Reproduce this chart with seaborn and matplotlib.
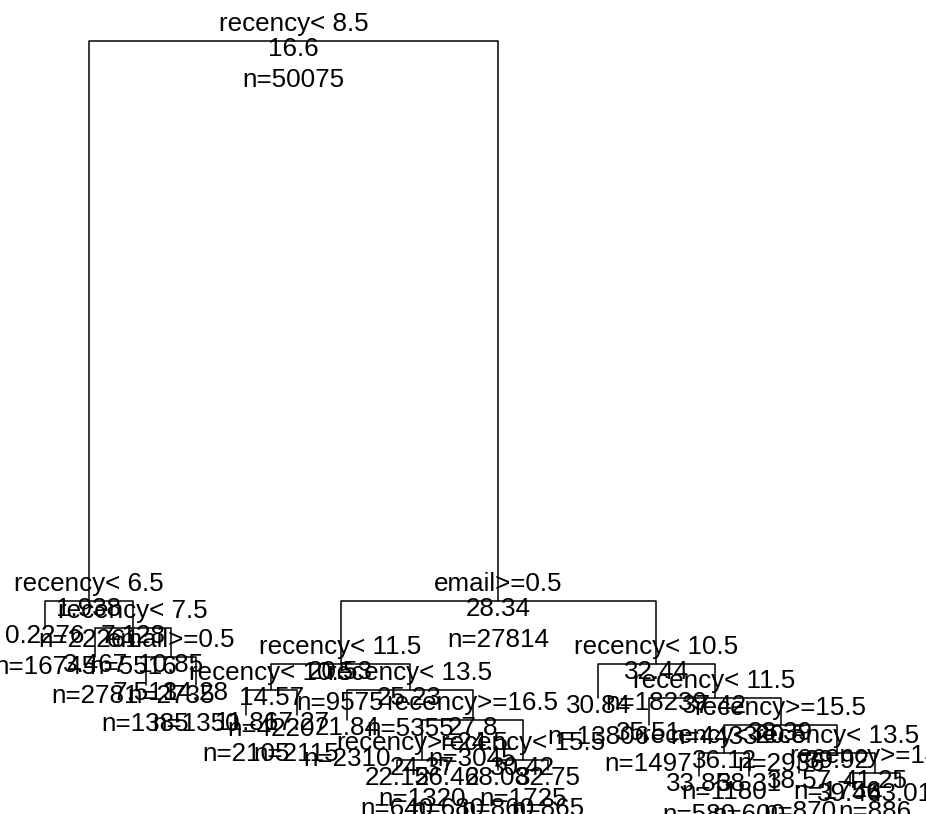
import matplotlib
matplotlib.use("Agg")
import matplotlib.pyplot as plt
import pandas as pd
import seaborn as sns

# Regression tree in rpart heap numbering (children of k are 2k and 2k+1)
node_id = [1, 2, 4, 5, 10, 11, 22, 23,
           3, 6, 12, 24, 25, 13, 26, 27, 54, 108, 109, 55, 110, 111,
           7, 14, 15, 30, 31, 62, 124, 125, 63, 126, 127, 254, 255]
split_label = ["recency< 8.5", "recency< 6.5", None, "recency< 7.5", None, "email>=0.5", None, None,
               "email>=0.5", "recency< 11.5", "recency< 10.5", None, None, "recency< 13.5", None,
               "recency>=16.5", "recency>=24.5", None, None, "recency< 15.5", None, None,
               "recency< 10.5", None, "recency< 11.5", None, "recency>=15.5", "recency< 20.5",
               None, None, "recency< 13.5", None, "recency>=14.5", None, None]
yval = [16.6, 1.938, 0.2276, 7.128, 3.467, 10.85, 7.513, 14.28,
        28.34, 20.53, 14.57, 11.86, 17.27, 25.23, 21.84, 27.8, 24.37, 22.15, 26.46, 30.42, 28.08, 32.75,
        32.44, 30.84, 37.42, 35.51, 38.39, 36.12, 33.85, 38.31, 39.92, 38.57, 41.25, 39.46, 43.01]
n_obs = [50075, 22261, 16745, 5516, 2781, 2735, 1385, 1350,
         27814, 9575, 4220, 2105, 2115, 5355, 2310, 3045, 1320, 640, 680, 1725, 860, 865,
         18239, 13806, 4433, 1497, 2936, 1180, 580, 600, 1756, 870, 886, 440, 446]
# deviance improvement of each split (thousands); leaves have none
split_gain = [2240, 108, 0, 116, 0, 112, 0, 0,
              252, 104, 100, 0, 0, 120, 0, 160, 40, 0, 0, 40, 0, 0,
              136, 0, 108, 0, 112, 92, 0, 0, 80, 0, 52, 0, 0]

nodes = pd.DataFrame({"node": node_id, "split": split_label, "yval": yval,
                      "n": n_obs, "gain": split_gain}).set_index("node")
ids = set(nodes.index)

# horizontal position: leaves numbered left to right, parents centred over children
xpos = {}
counter = [0]


def place(k):
    if 2 * k in ids:
        place(2 * k)
        place(2 * k + 1)
        xpos[k] = 0.5 * (xpos[2 * k] + xpos[2 * k + 1])
    else:
        xpos[k] = float(counter[0])
        counter[0] += 1


place(1)

# vertical position: each split drops its children by the deviance it removes
depth = {1: 0.0}
for k in sorted(ids):
    if 2 * k in ids:
        depth[2 * k] = depth[k] + nodes.loc[k, "gain"]
        depth[2 * k + 1] = depth[k] + nodes.loc[k, "gain"]

rows = []
seg = 0
for k in sorted(ids):
    if 2 * k not in ids:
        continue
    l, r = 2 * k, 2 * k + 1
    pts = [(xpos[l], depth[l]), (xpos[l], depth[k]), (xpos[r], depth[k]), (xpos[r], depth[r])]
    for x, y in pts:
        rows.append({"x": x, "y": y, "seg": seg})
    seg += 1
branches = pd.DataFrame(rows)

sns.set_style("white")
plt.rcParams["font.family"] = ["Liberation Sans", "DejaVu Sans"]

fig = plt.figure(figsize=(9.26, 8.14), dpi=100)
ax = fig.add_axes([0, 0, 1, 1])
sns.lineplot(data=branches, x="x", y="y", units="seg", estimator=None, sort=False,
             color="black", linewidth=1.1, ax=ax, legend=False)

fs = 18.7
for k in sorted(ids):
    x, y = xpos[k], depth[k]
    lab = nodes.loc[k, "split"]
    if isinstance(lab, str):
        ax.annotate(lab, (x, y), xytext=(0, 7.0), textcoords="offset points",
                    ha="center", va="baseline", fontsize=fs, color="black")
    ax.annotate(f"{nodes.loc[k, 'yval']:.4g}", (x, y), xytext=(0, -11.0),
                textcoords="offset points", ha="center", va="baseline", fontsize=fs, color="black")
    ax.annotate(f"n={nodes.loc[k, 'n']}", (x, y), xytext=(0, -33.3),
                textcoords="offset points", ha="center", va="baseline", fontsize=fs, color="black")

ax.set_xlim(-0.895, 17.515)
ax.set_ylim(3092, -164)
ax.axis("off")
fig.savefig("out.png", dpi=100)
